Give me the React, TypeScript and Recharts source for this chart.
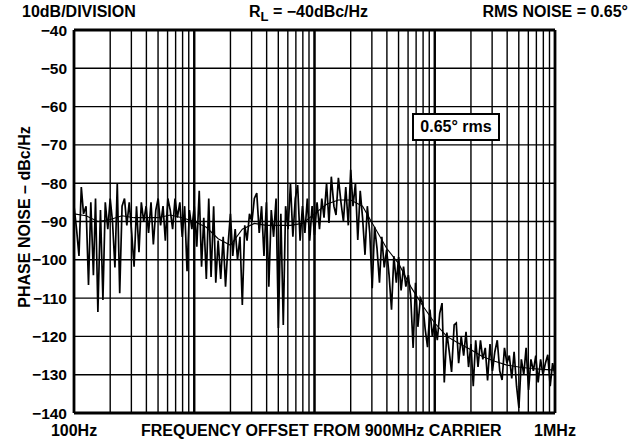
import {
  LineChart,
  Line,
  XAxis,
  YAxis,
  CartesianGrid,
  ReferenceLine,
} from 'recharts';

// offset frequency (Hz) of each trace sample, roughly 50 per decade
const freqHz = [
  100, 105, 110, 115, 120, 126, 132, 138, 145, 151, 158, 166, 174, 182, 191, 200, 209, 219, 229, 240,
  251, 263, 275, 288, 302, 316, 331, 347, 363, 380, 398, 417, 437, 457, 479, 501, 525, 550, 575, 603,
  631, 661, 692, 724, 759, 794, 832, 871, 912, 955,
  1000, 1050, 1100, 1150, 1200, 1260, 1320, 1380, 1450, 1510, 1580, 1660, 1740, 1820, 1910, 2000, 2090, 2190, 2290, 2400,
  2510, 2630, 2750, 2880, 3020, 3160, 3310, 3470, 3630, 3800, 3980, 4170, 4370, 4570, 4790, 5010, 5250, 5500, 5750, 6030,
  6310, 6610, 6920, 7240, 7590, 7940, 8320, 8710, 9120, 9550,
  10000, 10500, 11000, 11500, 12000, 12600, 13200, 13800, 14500, 15100, 15800, 16600, 17400, 18200, 19100, 20000, 20900, 21900, 22900, 24000,
  25100, 26300, 27500, 28800, 30200, 31600, 33100, 34700, 36300, 38000, 39800, 41700, 43700, 45700, 47900, 50100, 52500, 55000, 57500, 60300,
  63100, 66100, 69200, 72400, 75900, 79400, 83200, 87100, 91200, 95500,
  100000, 105000, 110000, 115000, 120000, 126000, 132000, 138000, 145000, 151000, 158000, 166000, 174000, 182000, 191000, 200000, 209000, 219000, 229000, 240000,
  251000, 263000, 275000, 288000, 302000, 316000, 331000, 347000, 363000, 380000, 398000, 417000, 437000, 457000, 479000, 501000, 525000, 550000, 575000, 603000,
  631000, 661000, 692000, 724000, 759000, 794000, 832000, 871000, 912000, 955000,
  1000000,
];

// raw measured phase noise (dBc/Hz)
const noiseDb = [
  -86, -92, -99, -81, -88, -86, -106.6, -85, -104, -84,
  -113.6, -87, -110.5, -85, -92, -84, -90, -102, -80, -108.7,
  -86, -84, -91, -85, -93, -101.8, -86, -98, -85, -90,
  -86, -93, -85, -96, -87, -84, -91, -86, -95, -84,
  -87, -92, -84, -89, -85, -94, -86, -103, -87, -92,
  -86, -96.6, -82, -101.8, -89, -105, -84, -104.5, -86, -106,
  -95, -105, -94, -107, -96, -88, -99, -92, -100, -94,
  -111.8, -91, -95, -88, -90, -84, -82.6, -93, -86, -99,
  -85, -107, -87, -94, -84, -117.8, -88, -117, -86, -92,
  -80, -94, -84, -80.5, -95, -86, -93, -84, -95, -86,
  -93.5, -85, -92, -84, -89, -80, -90.4, -78.3, -86, -88.3,
  -78.6, -85, -90, -81, -91, -76.5, -86, -80, -94.8, -82,
  -89, -98.7, -86, -93, -107.4, -91.4, -97, -106, -94, -102,
  -97.4, -104, -113, -99, -106, -99.3, -108, -101.8, -107, -104,
  -109.7, -123, -106, -117.5, -110, -111.3, -118, -122.8, -113, -120,
  -116, -121, -114, -111.3, -132, -119, -124, -129.3, -117, -116.5,
  -127, -120, -125, -118.8, -128, -122, -133, -121, -128, -121,
  -126, -123, -131.5, -122, -129, -124, -121, -129, -131.4, -123,
  -127, -125, -131, -124, -133, -138.7, -126, -130, -123, -134,
  -126, -129, -125, -132, -126, -130, -127, -124.8, -133, -127,
  -130,
];

// averaged trace
const smoothFreqHz = [
  100, 126, 158, 200, 251, 316, 398, 501, 631, 794,
  1000, 1260, 1580, 2000, 2510, 3160, 3980, 5010, 6310, 7940,
  10000, 12600, 15800, 20000, 25100, 31600, 39800, 50100, 63100, 79400,
  100000, 126000, 158000, 200000, 251000, 316000, 398000, 501000, 631000, 794000,
  1000000,
];
const smoothDb = [
  -88, -88.5, -90, -89.5, -88.5, -89, -89, -89, -88.3, -89,
  -90, -91.5, -94.5, -96.2, -92, -90.5, -91, -91, -91, -90.5,
  -88, -85.5, -84.4, -84.4, -86, -91.5, -97, -101, -107, -112,
  -116.5, -120, -121.8, -123.5, -125.3, -126.5, -127.5, -128, -128.4, -128.6,
  -128.8,
];

const xGridTicks = [
  100, 200, 300, 400, 500, 600, 700, 800, 900,
  1000, 2000, 3000, 4000, 5000, 6000, 7000, 8000, 9000,
  10000, 20000, 30000, 40000, 50000, 60000, 70000, 80000, 90000,
  100000, 200000, 300000, 400000, 500000, 600000, 700000, 800000, 900000,
  1000000,
];
const decadeTicks = [1000, 10000, 100000];
const yTicks = [-140, -130, -120, -110, -100, -90, -80, -70, -60, -50, -40];
const xTickLabels: Record<number, string> = { 100: '100Hz', 1000000: '1MHz' };

const FONT = '"Liberation Sans", Arial, Helvetica, sans-serif';

const noiseData = freqHz.map((f, i) => ({ f, v: noiseDb[i] }));
const smoothData = smoothFreqHz.map((f, i) => ({ f, v: smoothDb[i] }));

function XTick({ x, y, payload }: { x?: number; y?: number; payload?: { value: number } }) {
  const label = payload ? xTickLabels[payload.value] : undefined;
  if (!label) return null;
  return (
    <text x={x} y={(y ?? 0) + 15} textAnchor="middle" fill="#000" fontSize={16} fontWeight={700} fontFamily={FONT}>
      {label}
    </text>
  );
}

const textStyle: React.CSSProperties = {
  position: 'absolute',
  fontFamily: FONT,
  fontWeight: 700,
  fontSize: 16,
  color: '#000',
  whiteSpace: 'nowrap',
  lineHeight: '16px',
};

export default function App() {
  return (
    <div style={{ position: 'absolute', left: 0, top: 0, width: 629, height: 440, background: '#fff' }}>
      <LineChart
        width={629}
        height={440}
        data={noiseData}
        margin={{ top: 30, right: 74, bottom: 0, left: 0 }}
        style={{ fontFamily: FONT }}
      >
        <CartesianGrid stroke="#000" strokeWidth={1.4} strokeOpacity={1} />
        <XAxis
          dataKey="f"
          type="number"
          scale="log"
          domain={[100, 1000000]}
          ticks={xGridTicks}
          interval={0}
          height={27}
          axisLine={false}
          tickLine={false}
          tick={<XTick />}
          allowDataOverflow
        />
        <YAxis
          type="number"
          domain={[-140, -40]}
          ticks={yTicks}
          interval={0}
          width={74}
          axisLine={false}
          tickLine={false}
          tickSize={6}
          tickMargin={1}
          tick={{ fill: '#000', fontSize: 15.5, fontWeight: 700, fontFamily: FONT }}
          tickFormatter={(v: number) => String(v).replace('-', '\u2212')}
          allowDataOverflow
        />
        {decadeTicks.map((d) => (
          <ReferenceLine key={d} x={d} stroke="#000" strokeWidth={2.4} />
        ))}
        <Line
          data={noiseData}
          dataKey="v"
          type="linear"
          stroke="#000"
          strokeWidth={1.7}
          dot={false}
          activeDot={false}
          isAnimationActive={false}
        />
        <Line
          data={smoothData}
          dataKey="v"
          type="linear"
          stroke="#000"
          strokeWidth={1.1}
          dot={false}
          activeDot={false}
          isAnimationActive={false}
        />
        <ReferenceLine x={100} stroke="#000" strokeWidth={2.8} />
        <ReferenceLine x={1000000} stroke="#000" strokeWidth={2.8} />
        <ReferenceLine y={-40} stroke="#000" strokeWidth={2.8} />
        <ReferenceLine y={-140} stroke="#000" strokeWidth={2.8} />
      </LineChart>

      <div style={{ ...textStyle, left: 22, top: 4 }}>10dB/DIVISION</div>
      <div style={{ ...textStyle, left: 249, top: 4 }}>
        R<sub style={{ fontSize: 13, lineHeight: 0 }}>L</sub> = −40dBc/Hz
      </div>
      <div style={{ ...textStyle, right: 1, top: 4 }}>RMS NOISE = 0.65°</div>
      <div style={{ ...textStyle, left: 141, top: 423 }}>FREQUENCY OFFSET FROM 900MHz CARRIER</div>
      <div
        style={{
          ...textStyle,
          left: 25,
          top: 217,
          transform: 'translate(-50%, -50%) rotate(-90deg)',
        }}
      >
        PHASE NOISE – dBc/Hz
      </div>
      <div
        style={{
          ...textStyle,
          left: 412,
          top: 113,
          width: 84,
          height: 24,
          border: '2px solid #000',
          background: '#fff',
          display: 'flex',
          alignItems: 'center',
          justifyContent: 'center',
        }}
      >
        0.65° rms
      </div>
    </div>
  );
}
